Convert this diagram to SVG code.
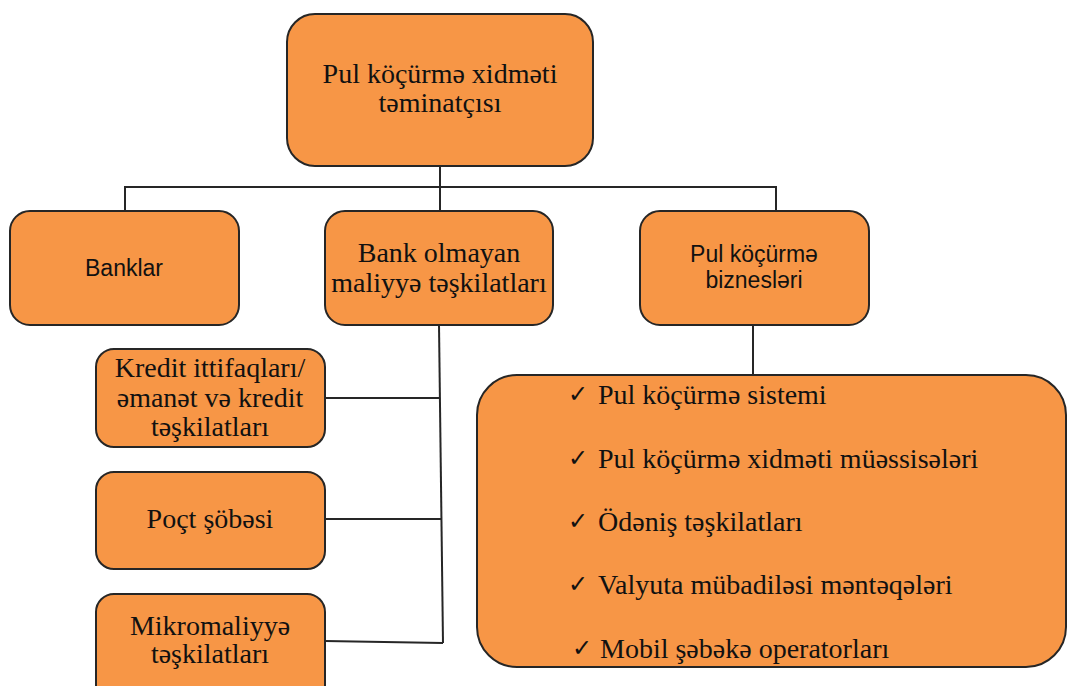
<svg xmlns="http://www.w3.org/2000/svg" width="1067" height="686" viewBox="0 0 1067 686">
<style>
.box{fill:#F79646;stroke:#262626;stroke-width:2}
.ln{fill:none;stroke:#262626;stroke-width:2}
.s{font-family:"Liberation Serif","Times New Roman",serif;font-size:28px;fill:#111;text-anchor:middle}
.a{font-family:"Liberation Sans",Arial,sans-serif;font-size:23px;fill:#111;text-anchor:middle}
.l{font-family:"Liberation Serif","Times New Roman",serif;font-size:28px;fill:#111}
.c{font-family:"DejaVu Sans",sans-serif;font-size:24px;fill:#111}
</style>
<rect width="1067" height="686" fill="#fff"/>
<g id="connectors">
<path class="ln" d="M440 166 V210"/>
<path class="ln" d="M125 210 V187 H776 V210"/>
<path class="ln" d="M753 325 V375"/>
<path class="ln" d="M439 325 L443 643"/>
<path class="ln" d="M325 398 H440"/>
<path class="ln" d="M325 519 H442"/>
<path class="ln" d="M325 641 L443 643"/>
</g>
<g id="top">
<rect class="box" x="287" y="14" width="306" height="152" rx="28"/>
<text class="s" x="440" y="83">Pul köçürmə xidməti</text>
<text class="s" x="440" y="112">təminatçısı</text>
</g>
<g id="banklar">
<rect class="box" x="10" y="211" width="229" height="114" rx="20"/>
<text class="a" x="124" y="276">Banklar</text>
</g>
<g id="bankolmayan">
<rect class="box" x="325" y="211" width="228" height="114" rx="20"/>
<text class="s" x="439" y="262">Bank olmayan</text>
<text class="s" x="439" y="292">maliyyə təşkilatları</text>
</g>
<g id="biznes">
<rect class="box" x="640" y="211" width="229" height="114" rx="20"/>
<text class="a" x="754" y="262">Pul köçürmə</text>
<text class="a" x="754" y="288">biznesləri</text>
</g>
<g id="kredit">
<rect class="box" x="96" y="349" width="229" height="98" rx="18"/>
<text class="s" x="210" y="377">Kredit ittifaqları/</text>
<text class="s" x="210" y="407">əmanət və kredit</text>
<text class="s" x="210" y="436">təşkilatları</text>
</g>
<g id="poct">
<rect class="box" x="96" y="472" width="229" height="97" rx="18"/>
<text class="s" x="210" y="528">Poçt şöbəsi</text>
</g>
<g id="mikro">
<rect class="box" x="96" y="594" width="229" height="110" rx="18"/>
<text class="s" x="210" y="635">Mikromaliyyə</text>
<text class="s" x="210" y="663">təşkilatları</text>
</g>
<g id="list">
<rect class="box" x="477" y="375" width="589" height="292" rx="40"/>
<text class="c" x="568" y="402">✓</text><text class="l" x="598" y="404">Pul köçürmə sistemi</text>
<text class="c" x="568" y="466">✓</text><text class="l" x="598" y="468">Pul köçürmə xidməti müəssisələri</text>
<text class="c" x="568" y="529">✓</text><text class="l" x="598" y="531">Ödəniş təşkilatları</text>
<text class="c" x="568" y="592">✓</text><text class="l" x="598" y="594">Valyuta mübadiləsi məntəqələri</text>
<text class="c" x="572" y="656">✓</text><text class="l" x="600" y="658">Mobil şəbəkə operatorları</text>
</g>
</svg>
